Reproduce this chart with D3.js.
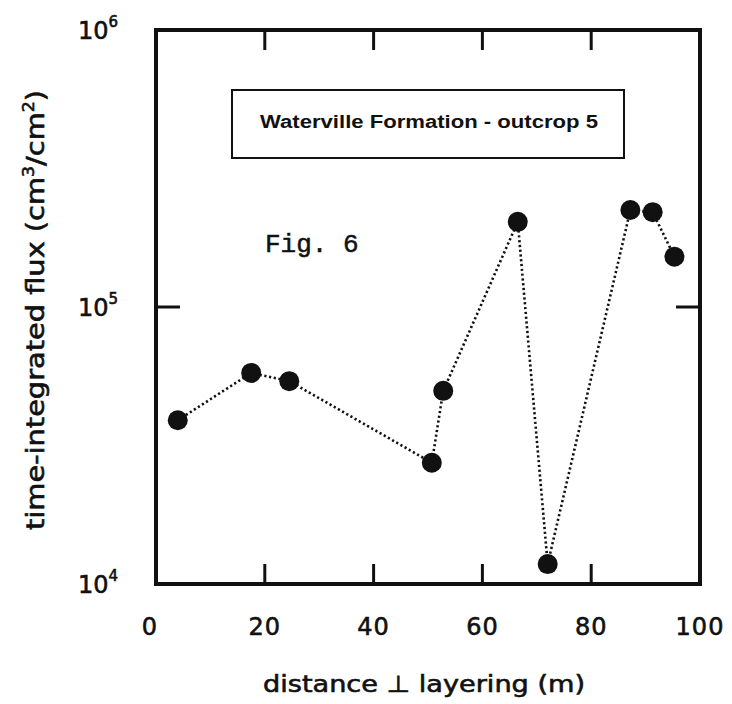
<!DOCTYPE html>
<html>
<head>
<meta charset="utf-8">
<script src="https://cdn.jsdelivr.net/npm/d3@7"></script>
<style>
  body { margin: 0; background: #fff; }
</style>
</head>
<body>
<div id="vis"></div>
<script>
// data
var distance = [4, 17.5, 24.5, 50.7, 52.8, 66.5, 72, 87.2, 91.3, 95.3];
var flux = [39000, 57800, 54000, 27400, 49800, 203000, 11800, 224000, 220000, 152000];
var xTicks = [0, 20, 40, 60, 80, 100];
var yTicks = [4, 5, 6];
var innerXTicks = [20, 40, 60, 80];

var width = 732, height = 704;
var margin = { top: 30, right: 32, bottom: 120, left: 156 };
var sans = "'DejaVu Sans', sans-serif";

var svg = d3.select("#vis")
  .append("svg")
    .attr("width", width)
    .attr("height", height);

var x = d3.scaleLinear()
  .domain([0, 100])
  .range([margin.left, width - margin.right]);

var y = d3.scaleLog()
  .domain([1e4, 1e6])
  .range([height - margin.bottom, margin.top]);

var x0 = x.range()[0], x1 = x.range()[1];
var y0 = y.range()[0], y1 = y.range()[1];

// dotted connecting line
var line = d3.line()
  .x(function (d, i) { return x(distance[i]); })
  .y(function (d) { return y(d); });

svg.append("path")
  .datum(flux)
  .attr("d", line)
  .attr("fill", "none")
  .attr("stroke", "#111")
  .attr("stroke-width", 2.6)
  .attr("stroke-dasharray", "2.2,2.6");

// frame
svg.append("rect")
  .attr("x", x0)
  .attr("y", y1)
  .attr("width", x1 - x0)
  .attr("height", y0 - y1)
  .attr("fill", "none")
  .attr("stroke", "#111")
  .attr("stroke-width", 4);

// inward ticks on top and bottom
var tickG = svg.append("g").attr("stroke", "#111").attr("stroke-width", 3);
innerXTicks.forEach(function (t) {
  tickG.append("line").attr("x1", x(t)).attr("x2", x(t)).attr("y1", y0).attr("y2", y0 - 20);
  tickG.append("line").attr("x1", x(t)).attr("x2", x(t)).attr("y1", y1).attr("y2", y1 + 20);
});
tickG.append("line").attr("x1", x0).attr("x2", x0 + 24).attr("y1", y(1e5)).attr("y2", y(1e5));
tickG.append("line").attr("x1", x1).attr("x2", x1 - 24).attr("y1", y(1e5)).attr("y2", y(1e5));

// points
svg.append("g")
  .selectAll("circle")
  .data(flux)
  .enter()
  .append("circle")
    .attr("cx", function (d, i) { return x(distance[i]); })
    .attr("cy", function (d) { return y(d); })
    .attr("r", 10)
    .attr("fill", "#111");

// all sans labels get a thin stroke so they read as heavy as the scan
var heavy = function (sel) {
  sel.style("font-family", sans)
    .attr("fill", "#111")
    .attr("stroke", "#111")
    .attr("stroke-width", 0.6);
};

// x tick labels
svg.append("g")
  .selectAll("text")
  .data(xTicks)
  .enter()
  .append("text")
    .attr("x", function (d) { return d === 0 ? x(d) - 6 : x(d); })
    .attr("y", 635)
    .attr("text-anchor", "middle")
    .style("font-size", "24px")
    .style("letter-spacing", "1px")
    .call(heavy)
    .text(function (d) { return d; });

// y tick labels 10^n
var yLab = svg.append("g")
  .selectAll("text")
  .data(yTicks)
  .enter()
  .append("text")
    .attr("x", 78)
    .attr("y", function (d) { return y(Math.pow(10, d)) + 9; })
    .style("font-size", "24px")
    .call(heavy);
yLab.append("tspan").text("10");
yLab.append("tspan")
  .attr("dy", -12)
  .style("font-size", "15px")
  .text(function (d) { return d; });

// axis titles
svg.append("text")
  .attr("x", 424)
  .attr("y", 692)
  .attr("text-anchor", "middle")
  .attr("textLength", 322)
  .attr("lengthAdjust", "spacingAndGlyphs")
  .style("font-size", "23px")
  .call(heavy)
  .text("distance \u22A5 layering (m)");

var yTitle = svg.append("text")
  .attr("transform", "translate(44,310) rotate(-90)")
  .attr("text-anchor", "middle")
  .attr("textLength", 440)
  .attr("lengthAdjust", "spacingAndGlyphs")
  .style("font-size", "25px")
  .call(heavy);
yTitle.append("tspan").text("time-integrated flux (cm");
yTitle.append("tspan").attr("dy", -10).style("font-size", "15px").text("3");
yTitle.append("tspan").attr("dy", 10).text("/cm");
yTitle.append("tspan").attr("dy", -10).style("font-size", "15px").text("2");
yTitle.append("tspan").attr("dy", 10).text(")");

// legend box
svg.append("rect")
  .attr("x", 232)
  .attr("y", 90)
  .attr("width", 392)
  .attr("height", 68)
  .attr("fill", "none")
  .attr("stroke", "#111")
  .attr("stroke-width", 2);

svg.append("text")
  .attr("x", 260)
  .attr("y", 128)
  .attr("textLength", 338)
  .attr("lengthAdjust", "spacingAndGlyphs")
  .style("font-family", "'Liberation Sans', Arial, sans-serif")
  .style("font-weight", "bold")
  .style("font-size", "18px")
  .attr("fill", "#111")
  .text("Waterville Formation - outcrop 5");

// figure label
svg.append("text")
  .attr("x", 265)
  .attr("y", 252)
  .style("font-family", "'Liberation Mono', monospace")
  .style("font-size", "26px")
  .attr("fill", "#111")
  .attr("stroke", "#111")
  .attr("stroke-width", 0.5)
  .text("Fig. 6");
</script>
</body>
</html>
